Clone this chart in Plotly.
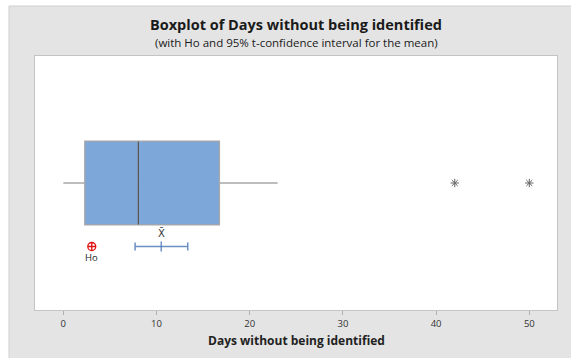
import plotly.graph_objects as go

# ---- data ----
q1 = 2.3
median = 8.05
q3 = 16.75
lower_whisker = 0.0
upper_whisker = 23.0
outliers = [42.0, 50.0]
ci_low = 7.7
mean_val = 10.5
ci_high = 13.35
h0 = 3.05
tick_vals = [0, 10, 20, 30, 40, 50]
tick_text = ["0", "10", "20", "30", "40", "50"]

W, H = 571, 358
ML, MR, MT, MB = 35, 14, 56, 48
PW, PH = W - ML - MR, H - MT - MB

def px_x(px):
    return (px - ML) / PW

def px_y(py):
    return (H - MB - py) / PH

FONT = "Open Sans, Noto Sans, sans-serif"
BOX_Y = 0.5
CI_Y = 0.25

fig = go.Figure()

fig.add_trace(go.Box(
    orientation="h",
    y=[BOX_Y],
    q1=[q1], median=[median], q3=[q3],
    lowerfence=[lower_whisker], upperfence=[upper_whisker],
    width=0.33,
    whiskerwidth=0,
    fillcolor="#7da7d9",
    line=dict(color="#a8a8a8", width=1.3),
    boxpoints=False,
    hoverinfo="skip",
    showlegend=False,
))

# darker median line
fig.add_trace(go.Scatter(
    x=[median, median], y=[BOX_Y - 0.163, BOX_Y + 0.163],
    mode="lines", line=dict(color="#555555", width=1.2),
    showlegend=False, hoverinfo="skip",
))

# outliers
fig.add_trace(go.Scatter(
    x=outliers, y=[BOX_Y] * len(outliers),
    mode="markers",
    marker=dict(symbol="asterisk-open", size=7, color="#666666", line=dict(color="#666666", width=1)),
    showlegend=False, hoverinfo="skip",
))

# confidence interval for the mean
fig.add_trace(go.Scatter(
    x=[mean_val], y=[CI_Y],
    mode="markers",
    marker=dict(symbol="line-ns-open", size=7, color="#4f79b8", line=dict(color="#4f79b8", width=1.2)),
    error_x=dict(type="data", symmetric=False,
                 array=[ci_high - mean_val], arrayminus=[mean_val - ci_low],
                 color="#6d8fc4", thickness=1.5, width=4),
    showlegend=False, hoverinfo="skip",
))

# Ho marker
fig.add_trace(go.Scatter(
    x=[h0], y=[CI_Y],
    mode="markers",
    marker=dict(symbol="circle-cross-open", size=8, color="#e01010", line=dict(color="#e01010", width=1.3)),
    showlegend=False, hoverinfo="skip",
))

annotations = [
    dict(text="<b>Boxplot of Days without being identified</b>", xref="paper", yref="paper",
         x=0.5, y=px_y(24), xanchor="center", yanchor="middle", showarrow=False,
         font=dict(family=FONT, size=14.5, color="#1a1a1a")),
    dict(text="(with Ho and 95% t-confidence interval for the mean)", xref="paper", yref="paper",
         x=0.5, y=px_y(42), xanchor="center", yanchor="middle", showarrow=False,
         font=dict(family=FONT, size=11.5, color="#1a1a1a")),
    dict(text="<b>Days without being identified</b>", xref="paper", yref="paper",
         x=0.5, y=px_y(340), xanchor="center", yanchor="middle", showarrow=False,
         font=dict(family=FONT, size=12, color="#222222")),
    dict(text="X\u0304", x=mean_val, y=CI_Y, xref="x", yref="y", yshift=14,
         showarrow=False, font=dict(family="DejaVu Sans, sans-serif", size=10, color="#333333")),
    dict(text="Ho", x=h0, y=CI_Y, xref="x", yref="y", yshift=-11,
         showarrow=False, font=dict(family=FONT, size=9.5, color="#222222")),
]

shapes = [
    # white strips outside the grey frame (left and top)
    dict(type="rect", xref="paper", yref="paper", x0=px_x(-5), x1=px_x(9), y0=px_y(H + 5), y1=px_y(-5),
         fillcolor="white", line=dict(width=0), layer="below"),
    dict(type="rect", xref="paper", yref="paper", x0=px_x(-5), x1=px_x(W + 5), y0=px_y(6), y1=px_y(-5),
         fillcolor="white", line=dict(width=0), layer="below"),
    dict(type="line", xref="paper", yref="paper", x0=px_x(9), x1=px_x(9), y0=px_y(H + 5), y1=px_y(6),
         line=dict(color="#cfcfcf", width=1), layer="below"),
    dict(type="line", xref="paper", yref="paper", x0=px_x(9), x1=px_x(W + 5), y0=px_y(6), y1=px_y(6),
         line=dict(color="#cfcfcf", width=1), layer="below"),
]

fig.update_layout(
    width=W, height=H,
    margin=dict(l=ML, r=MR, t=MT, b=MB),
    paper_bgcolor="#e4e4e4",
    plot_bgcolor="white",
    annotations=annotations,
    shapes=shapes,
    showlegend=False,
    xaxis=dict(
        range=[-3.04, 52.97],
        tickvals=tick_vals, ticktext=tick_text,
        ticks="outside", ticklen=4, tickcolor="#b0b0b0", tickwidth=1,
        tickfont=dict(family=FONT, size=9.5, color="#333333"),
        showgrid=False, zeroline=False,
        showline=True, linecolor="#c4c4c4", linewidth=1.2, mirror=True,
    ),
    yaxis=dict(
        range=[0, 1], showticklabels=False, ticks="", showgrid=False, zeroline=False,
        showline=True, linecolor="#c4c4c4", linewidth=1.2, mirror=True,
    ),
)

fig.write_html("out.html", config={"displayModeBar": False},
               post_script="document.body.style.margin='0';document.body.style.padding='0';")
